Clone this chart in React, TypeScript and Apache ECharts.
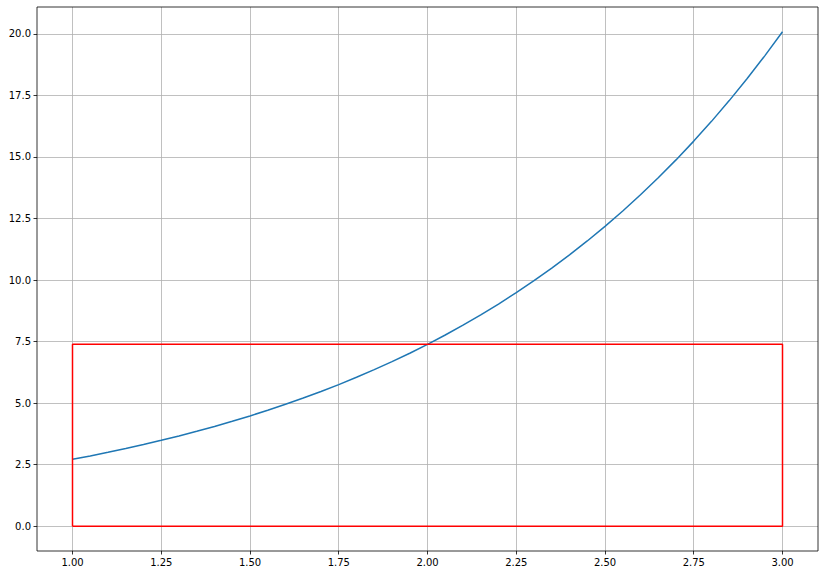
import React, { useEffect, useRef } from "react";
import * as echarts from "echarts";

const xValues = [1.0, 1.05, 1.1, 1.15, 1.2, 1.25, 1.3, 1.35, 1.4, 1.45, 1.5, 1.55, 1.6, 1.65, 1.7, 1.75, 1.8, 1.85, 1.9, 1.95, 2.0, 2.05, 2.1, 2.15, 2.2, 2.25, 2.3, 2.35, 2.4, 2.45, 2.5, 2.55, 2.6, 2.65, 2.7, 2.75, 2.8, 2.85, 2.9, 2.95, 3.0];
const curveValues = [2.718, 2.858, 3.004, 3.158, 3.32, 3.49, 3.669, 3.857, 4.055, 4.263, 4.482, 4.711, 4.953, 5.207, 5.474, 5.755, 6.05, 6.36, 6.686, 7.029, 7.389, 7.768, 8.166, 8.585, 9.025, 9.488, 9.974, 10.486, 11.023, 11.588, 12.182, 12.807, 13.464, 14.154, 14.88, 15.643, 16.445, 17.288, 18.174, 19.106, 20.086];
const rectX = [1.0, 1.0, 3.0, 3.0, 1.0];
const rectY = [0.0, 7.389, 7.389, 0.0, 0.0];
const xTicks = [1.0, 1.25, 1.5, 1.75, 2.0, 2.25, 2.5, 2.75, 3.0];
const yTicks = [0.0, 2.5, 5.0, 7.5, 10.0, 12.5, 15.0, 17.5, 20.0];

export default function App() {
  const ref = useRef<HTMLDivElement>(null);
  useEffect(() => {
    document.body.style.margin = "0";
    const chart = echarts.init(ref.current!, null, { renderer: "svg" });
    const font = "DejaVu Sans";
    const axisCommon = {
      axisLine: { show: false, onZero: false },
      axisTick: { show: true, length: 3.5, lineStyle: { color: "#000", width: 0.8 } },
      splitLine: { show: true, lineStyle: { color: "#b0b0b0", width: 0.8 } },
    };
    chart.setOption({
      animation: false,
      backgroundColor: "#fff",
      grid: { left: 37, right: 6, top: 7, bottom: 24, show: true, borderColor: "#000", borderWidth: 0.8, backgroundColor: "transparent", z: 10 },
      xAxis: {
        type: "value",
        min: 0.9,
        max: 3.1,
        ...axisCommon,
        axisTick: { ...axisCommon.axisTick, customValues: xTicks },
        axisLabel: {
          customValues: xTicks,
          formatter: (v: number) => v.toFixed(2),
          color: "#000",
          fontFamily: font,
          fontSize: 10,
          margin: 6,
        },
      },
      yAxis: {
        type: "value",
        min: -1.0043,
        max: 21.09,
        ...axisCommon,
        axisTick: { ...axisCommon.axisTick, customValues: yTicks },
        axisLabel: {
          customValues: yTicks,
          formatter: (v: number) => v.toFixed(1),
          color: "#000",
          fontFamily: font,
          fontSize: 10,
          margin: 6,
        },
      },
      series: [
        {
          type: "line",
          data: xValues.map((x, i) => [x, curveValues[i]]),
          showSymbol: false,
          lineStyle: { color: "#1f77b4", width: 1.5 },
          z: 3,
        },
        {
          type: "line",
          data: rectX.map((x, i) => [x, rectY[i]]),
          showSymbol: false,
          lineStyle: { color: "#ff0000", width: 1.5 },
          z: 4,
        },
      ],
    });
    return () => chart.dispose();
  }, []);
  return <div ref={ref} style={{ width: 824, height: 575 }} />;
}
